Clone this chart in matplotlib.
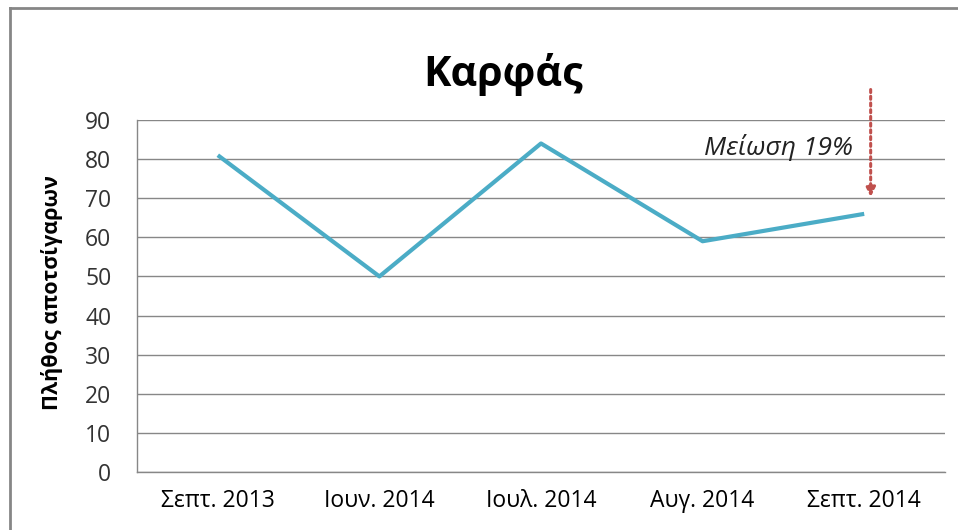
import matplotlib.pyplot as plt

plt.rcParams['font.family'] = ['Open Sans', 'DejaVu Sans']

months = ['Σεπτ. 2013', 'Ιουν. 2014', 'Ιουλ. 2014', 'Αυγ. 2014', 'Σεπτ. 2014']
butts = [81, 50, 84, 59, 66]
yticks = [0, 10, 20, 30, 40, 50, 60, 70, 80, 90]
note = 'Μείωση 19%'

fig = plt.figure(figsize=(9.58, 5.30), dpi=100)
W, H = 958, 530
ax = fig.add_axes([137 / W, 1 - 472 / H, (945 - 137) / W, (472 - 120) / H])

# outer chart frame (left and top edges visible)
fig.add_artist(plt.Line2D([10 / W, 10 / W], [0, 1 - 8 / H], transform=fig.transFigure,
                          color='#868686', lw=2))
fig.add_artist(plt.Line2D([10 / W, 1], [1 - 8 / H, 1 - 8 / H], transform=fig.transFigure,
                          color='#868686', lw=2))

x = list(range(len(months)))
ax.plot(x, butts, color='#4BACC6', lw=3, solid_capstyle='butt', zorder=3)

ax.set_xlim(-0.5, len(months) - 0.5)
ax.set_ylim(0, 90)
ax.set_yticks(yticks)
ax.set_xticks(x)
ax.set_xticklabels(months)
ax.tick_params(length=0, labelsize=16.5, colors='#000000')
ax.tick_params(axis='x', pad=12)
ax.tick_params(axis='y', pad=18.5)
for t in ax.get_yticklabels():
    t.set_color('#333333')
ax.grid(axis='y', color='#878787', lw=1)
ax.set_axisbelow(True)
for s in ['top', 'right']:
    ax.spines[s].set_visible(False)
for s in ['left', 'bottom']:
    ax.spines[s].set_color('#878787')
    ax.spines[s].set_linewidth(1)

ax.set_ylabel('Πλήθος αποτσίγαρων', fontsize=15.5, fontweight='bold')
ax.yaxis.set_label_coords(-(137 - 63) / (945 - 137), (472 - 293) / (472 - 120))
fig.text(503 / W, 1 - 74 / H, 'Καρφάς', fontsize=29.7, fontweight='bold',
         ha='center', va='center')

ax.annotate('', xy=(4.04, 69.6), xytext=(4.04, 98.5),
            arrowprops=dict(arrowstyle='-|>', color='#C0504D', lw=2.2,
                            linestyle=(0, (1, 1.2)), mutation_scale=14),
            annotation_clip=False)
ax.text(3.93, 83.0, note, fontsize=19, style='italic', ha='right', va='center',
        color='#222222')

fig.savefig('out.png', dpi=100)
